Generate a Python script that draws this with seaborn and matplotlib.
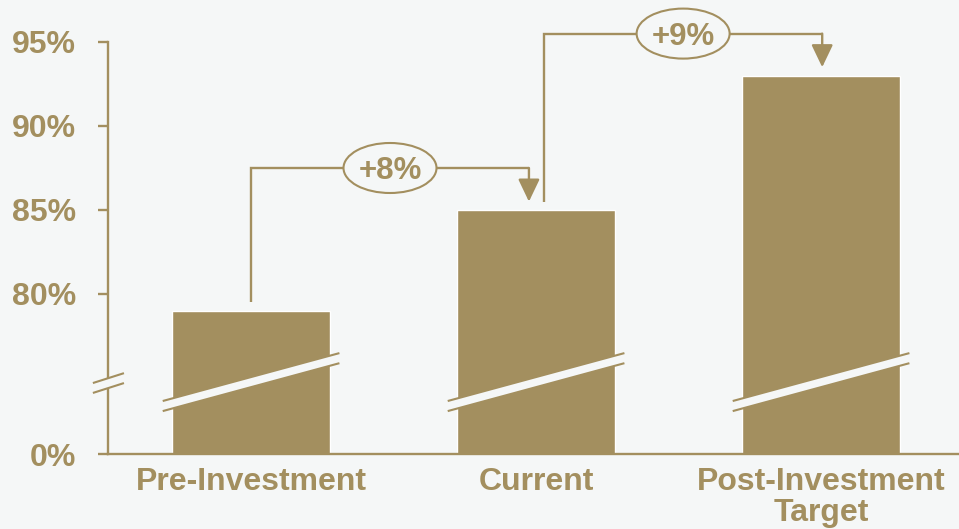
import numpy as np
import pandas as pd
import matplotlib
matplotlib.use('Agg')
import matplotlib.pyplot as plt
from matplotlib.patches import Ellipse, Polygon
from matplotlib.ticker import NullLocator
import seaborn as sns

# data
stages = ['Pre-Investment', 'Current', 'Post-Investment\nTarget']
share = [79, 85, 93]
ytick_vals = [0, 80, 85, 90, 95]
ytick_labels = ['0%', '80%', '85%', '90%', '95%']
gain_labels = ['+8%', '+9%']

gold = '#a38f5f'
bg = '#f5f7f7'

# broken axis: everything below brk_v is squeezed into a small band
brk_v = 74.0
off = 70.476
brk_u = brk_v - off


def fwd(v):
    v = np.asarray(v, dtype=float)
    return np.where(v <= brk_v, v * brk_u / brk_v, v - off)


def inv(u):
    u = np.asarray(u, dtype=float)
    return np.where(u <= brk_u, u * brk_v / brk_u, u + off)


sns.set_theme(style='white')
plt.rcParams['font.family'] = ['Liberation Sans', 'DejaVu Sans']

df = pd.DataFrame({'stage': stages, 'share': share})

fig = plt.figure(figsize=(9.59, 5.29), dpi=100, facecolor=bg)
ax = fig.add_axes([108 / 959, 75 / 529, 851 / 959, 454 / 529])
ax.set_facecolor(bg)
ax.set_yscale('function', functions=(fwd, inv))

sns.barplot(data=df, x='stage', y='share', color=gold, saturation=1,
            width=0.554, ax=ax)
ax.set_xlim(-0.502, 2.484)
ax.set_ylim(0, float(inv(454 / 16.8)))
ax.set_xlabel('')
ax.set_ylabel('')

ax.set_yticks(ytick_vals)
ax.set_yticklabels(ytick_labels)
ax.yaxis.set_minor_locator(NullLocator())
ax.tick_params(axis='y', length=7.2, width=1.7, color=gold, labelcolor=gold,
               labelsize=23, pad=16, left=True)
ax.tick_params(axis='x', length=0, labelcolor=gold, labelsize=23, pad=9)
for lbl in ax.get_xticklabels() + ax.get_yticklabels():
    lbl.set_fontweight('bold')
for lbl in ax.get_xticklabels():
    lbl.set_linespacing(1.05)

sns.despine(ax=ax)
for s in ['left', 'bottom']:
    ax.spines[s].set_color(gold)
    ax.spines[s].set_linewidth(1.7)
ax.spines['left'].set_bounds(0, 95)

# scaled coordinates (after the broken-axis transform) for the break marks
tr = ax.transLimits + ax.transAxes


def break_mark(xc, half_l, half_r, u_hi, u_lo, slope, lw):
    xs = np.array([xc - half_l, xc + half_r])
    hi = u_hi + slope * (xs - xc)
    lo = u_lo + slope * (xs - xc)
    band = Polygon([(xs[0], hi[0]), (xs[1], hi[1]), (xs[1], lo[1]), (xs[0], lo[0])],
                   closed=True, facecolor=bg, edgecolor='none', transform=tr,
                   zorder=3, clip_on=False)
    ax.add_patch(band)
    for ys in (hi, lo):
        ax.plot(xs, ys, color=gold, lw=lw, transform=tr, zorder=4,
                solid_capstyle='butt', clip_on=False)


for i in range(len(stages)):
    break_mark(i, 0.31, 0.31, 4.58, 3.98, 4.6, 1.5)
break_mark(-0.502, 0.053, 0.056, 4.51, 3.92, 5.4, 1.5)

# bracket arrows between bars
start_dx = [0.0, 0.028]
end_dx = [-0.025, 0.004]
gap = 0.5
rise = 2.5
for k, lab in enumerate(gain_labels):
    a, b = k, k + 1
    x0 = a + start_dx[k]
    x1 = b + end_dx[k]
    y0 = share[a] + gap
    ytop = share[b] + rise
    y1 = share[b] + gap
    ax.plot([x0, x0, x1], [y0, ytop, ytop], color=gold, lw=1.7, zorder=4,
            clip_on=False, solid_joinstyle='miter', solid_capstyle='butt')
    ax.annotate('', xy=(x1, y1), xytext=(x1, ytop),
                arrowprops=dict(arrowstyle='-|>,head_length=1.15,head_width=0.55',
                                color=gold, lw=1.7, shrinkA=0, shrinkB=0),
                annotation_clip=False)
    xc = (x0 + x1) / 2
    ax.add_patch(Ellipse((xc, ytop), width=93 / 285, height=50 / 16.8,
                         facecolor=bg, edgecolor=gold, lw=1.5, zorder=5,
                         clip_on=False))
    ax.text(xc, ytop, lab, ha='center', va='center_baseline', fontsize=22.5,
            fontweight='bold', color=gold, zorder=6)

fig.savefig('out.png', dpi=100, facecolor=bg)
